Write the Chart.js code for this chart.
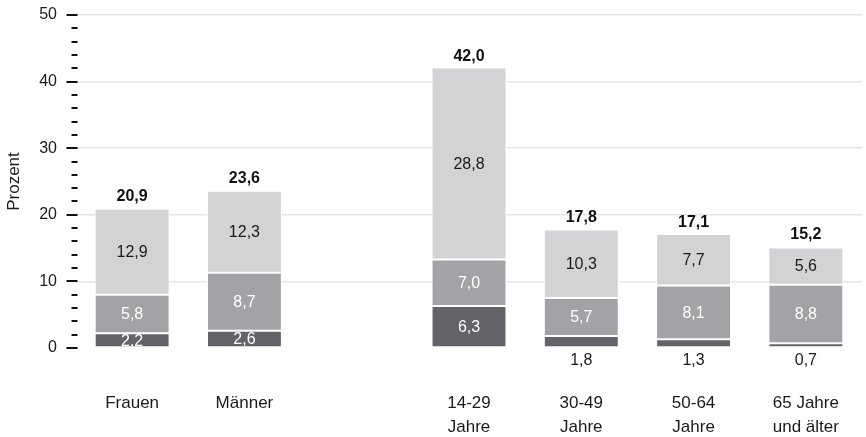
<!DOCTYPE html>
<html>
<head>
<meta charset="utf-8">
<script src="https://cdn.jsdelivr.net/npm/chart.js@4"></script>
<style>
  html,body{margin:0;padding:0;background:#fff;}
  #wrap{width:866px;height:437px;position:relative;}
</style>
</head>
<body>
<div id="wrap"><canvas id="c"></canvas></div>
<script>
/* ── Daten ── */
const categories = ['Frauen', 'Männer', '', ['14-29','Jahre'], ['30-49','Jahre'], ['50-64','Jahre'], ['65 Jahre','und älter']];
const darkVals   = [2.2, 2.6, null, 6.3, 1.8, 1.3, 0.7];
const midVals    = [5.8, 8.7, null, 7.0, 5.7, 8.1, 8.8];
const lightVals  = [12.9, 12.3, null, 28.8, 10.3, 7.7, 5.6];
const totals     = [20.9, 23.6, null, 42.0, 17.8, 17.1, 15.2];
const yTicks     = [0, 10, 20, 30, 40, 50];

const FONT = '"Liberation Sans", Arial, sans-serif';
const fmt  = v => v.toFixed(1).replace('.', ',');

/* ── Beschriftung der Segmente, Summen und Skalenstriche ── */
const labelPlugin = {
  id:'labels',
  afterDatasetsDraw(chart){
    const ctx = chart.ctx;
    ctx.save();
    ctx.textAlign = 'center';
    ctx.textBaseline = 'middle';
    chart.data.datasets.forEach((ds, di)=>{
      const meta = chart.getDatasetMeta(di);
      meta.data.forEach((bar, i)=>{
        const v = ds.data[i];
        if(v==null) return;
        ctx.font = '16px ' + FONT;
        if(di===0 && v<2){
          ctx.fillStyle = '#1a1a1a';
          ctx.fillText(fmt(v), bar.x, bar.base + 13);
        } else {
          ctx.fillStyle = di===2 ? '#1a1a1a' : '#ffffff';
          ctx.fillText(fmt(v), bar.x, (bar.y + bar.base)/2 + 1);
        }
      });
    });
    // Summen über den Balken
    const top = chart.getDatasetMeta(2);
    const ys  = chart.scales.y;
    ctx.font = 'bold 16px ' + FONT;
    ctx.fillStyle = '#111';
    top.data.forEach((bar, i)=>{
      if(totals[i]==null) return;
      ctx.fillText(fmt(totals[i]), bar.x, ys.getPixelForValue(totals[i]) - 12);
    });
    ctx.restore();
  },
  afterDraw(chart){
    const ctx = chart.ctx, ys = chart.scales.y;
    const x1 = chart.chartArea.left + 1.5;
    ctx.save();
    ctx.strokeStyle = '#111';
    ctx.lineWidth = 2;
    for(let v=0; v<=50; v+=2){
      const y = Math.round(ys.getPixelForValue(v));
      const x0 = v%10===0 ? x1-11 : x1-6;
      ctx.beginPath(); ctx.moveTo(x0, y); ctx.lineTo(x1, y); ctx.stroke();
    }
    ctx.restore();
  }
};

const mkSet = (label, data, color) => ({
  label, data, backgroundColor:color, borderColor:'#ffffff', borderWidth:1,
  borderSkipped:false, barPercentage:0.667, categoryPercentage:1.0
});

const chart = new Chart(document.getElementById('c'), {
  type:'bar',
  data:{
    labels:categories,
    datasets:[
      mkSet('dunkel', darkVals,  '#62646a'),
      mkSet('mittel', midVals,   '#a1a3a6'),
      mkSet('hell',   lightVals, '#d1d3d5')
    ]
  },
  options:{
    responsive:true, maintainAspectRatio:false, animation:false,
    layout:{padding:{top:15, right:4, left:0, bottom:0}},
    plugins:{legend:{display:false}, tooltip:{enabled:false}},
    scales:{
      x:{
        stacked:true,
        afterFit(scale){ scale.height = 89; },
        grid:{display:true, drawOnChartArea:false, drawTicks:true, tickLength:43, tickColor:'rgba(0,0,0,0)'},
        border:{display:false},
        ticks:{color:'#1a1a1a', font:{family:FONT, size:17, lineHeight:1.42}, padding:0, maxRotation:0, autoSkip:false}
      },
      y:{
        stacked:true, min:0, max:50,
        afterFit(scale){ scale.width = 76; },
        afterBuildTicks(scale){ scale.ticks = yTicks.map(v=>({value:v})); },
        grid:{drawTicks:true, tickLength:19, tickColor:'rgba(0,0,0,0)',
              color:ctx=>ctx.tick && ctx.tick.value>0 ? '#e6e6e6' : 'rgba(0,0,0,0)', lineWidth:1.5},
        border:{display:false},
        ticks:{color:'#1a1a1a', font:{family:FONT, size:16}, padding:0},
        title:{display:true, text:'Prozent', color:'#1a1a1a', font:{family:FONT, size:17}, padding:{top:4,bottom:0}}
      }
    }
  },
  plugins:[labelPlugin]
});
</script>
</body>
</html>
